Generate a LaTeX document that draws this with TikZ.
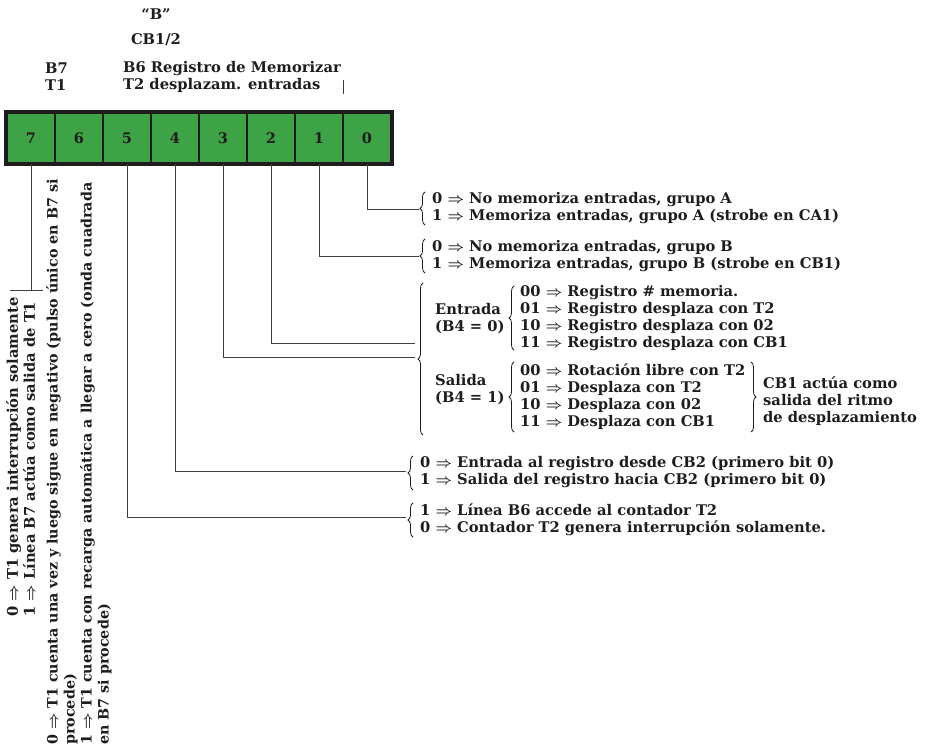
\documentclass[tikz,border=0pt]{standalone}
\usepackage{fontspec}
\setmainfont{DejaVu Serif}
\usetikzlibrary{decorations.pathreplacing}
\definecolor{regGreen}{RGB}{62,162,70}
\definecolor{ink}{RGB}{30,28,28}
\newcommand{\imp}{{\boldmath$\Rightarrow$}}
\begin{document}
\begin{tikzpicture}[x=1pt,y=-1pt,
  txt/.style={font=\bfseries\fontsize{14.7}{17}\selectfont, text=ink, inner sep=0pt, align=left},
  cell/.style={draw=ink, line width=2.6pt, fill=regGreen, minimum width=48pt, minimum height=50pt,
               inner sep=0pt, font=\bfseries\fontsize{14.5}{17}\selectfont, text=ink},
  conn/.style={draw=ink!85, line width=0.9pt},
  brc/.style={draw=ink, line width=0.8pt, decorate, decoration={brace, amplitude=5pt}}]
\useasboundingbox (0,0) rectangle (925,751);

% header labels
\node[txt, anchor=center] (hb) at (156,14) {“B”};
\node[txt, anchor=center] (hcb) at (156,40) {CB1/2};
\node[txt, anchor=west] (hb7) at (45,77) {B7\\T1};
\node[txt, anchor=west] (hb6) at (123,77) {B6 Registro de Memorizar\\T2 desplazam. entradas};
\draw[conn] (343,80) -- (343,94);

% register cells
\foreach \b [count=\i from 0] in {7,6,5,4,3,2,1,0}
  \node[cell] (c\b) at (31+48*\i,138) {\b};
\draw[ink, line width=3.4pt] (c7.north west) rectangle (c0.south east);

% bit 7 / bit 6 texts (rotated)
\node[txt, rotate=90, anchor=north west] (t7) at (6,617)
  {0 \imp{} T1 genera interrupción solamente\\
   1 \imp{} Línea B7 actúa como salida de T1};
\node[txt, rotate=90, anchor=north west, font=\bfseries\fontsize{14.3}{17}\selectfont] (t6) at (46,745)
  {0 \imp{} T1 cuenta una vez y luego sigue en negativo (pulso único en B7 si\\
   procede)\\
   1 \imp{} T1 cuenta con recarga automática a llegar a cero (onda cuadrada\\
   en B7 si procede)};
\coordinate (b7) at (31,290);
\coordinate (b7l) at (10,290);
\coordinate (b7r) at (43,290);
\draw[conn] (c7.south) -- (b7);
\draw[conn] (b7l) -- (b7r);

% bits 0 and 1
\node[txt, anchor=west] (t0) at (432,208.5)
  {0 \imp{} No memoriza entradas, grupo A\\
   1 \imp{} Memoriza entradas, grupo A (strobe en CA1)};
\node[txt, anchor=west] (t1) at (432,256)
  {0 \imp{} No memoriza entradas, grupo B\\
   1 \imp{} Memoriza entradas, grupo B (strobe en CB1)};
\draw[brc] (425,225) -- (425,192);
\draw[brc] (425,273) -- (425,239);
\coordinate (e0) at (419,209);
\coordinate (e1) at (419,256);
\draw[conn] (c0.south) |- (e0);
\draw[conn] (c1.south) |- (e1);

% bits 2 and 3
\draw[brc] (423,435) -- (423,283);
\node[txt, anchor=west] (tent) at (435,318.5) {Entrada\\(B4 = 0)};
\node[txt, anchor=west] (lent) at (520,318.5)
  {00 \imp{} Registro \# memoria.\\
   01 \imp{} Registro desplaza con T2\\
   10 \imp{} Registro desplaza con 02\\
   11 \imp{} Registro desplaza con CB1};
\draw[brc] (514,350) -- (514,286);
\node[txt, anchor=west] (tsal) at (435,389.5) {Salida\\(B4 = 1)};
\node[txt, anchor=west] (lsal) at (520,397)
  {00 \imp{} Rotación libre con T2\\
   01 \imp{} Desplaza con T2\\
   10 \imp{} Desplaza con 02\\
   11 \imp{} Desplaza con CB1};
\draw[brc] (514,432) -- (514,362);
\draw[brc] (751,362) -- (751,432);
\node[txt, anchor=west] (tcb) at (763,401)
  {CB1 actúa como\\salida del ritmo\\de desplazamiento};
\coordinate (e2) at (415,343);
\coordinate (e3) at (415,357);
\draw[conn] (c2.south) |- (e2);
\draw[conn] (c3.south) |- (e3);

% bits 4 and 5
\node[txt, anchor=west] (t4) at (420,472.5)
  {0 \imp{} Entrada al registro desde CB2 (primero bit 0)\\
   1 \imp{} Salida del registro hacia CB2 (primero bit 0)};
\node[txt, anchor=west] (t5) at (420,519.5)
  {1 \imp{} Línea B6 accede al contador T2\\
   0 \imp{} Contador T2 genera interrupción solamente.};
\draw[brc] (413,490) -- (413,456);
\draw[brc] (413,537) -- (413,503);
\coordinate (e4) at (406,471);
\coordinate (e5) at (406,517);
\draw[conn] (c4.south) |- (e4);
\draw[conn] (c5.south) |- (e5);
\end{tikzpicture}
\end{document}
